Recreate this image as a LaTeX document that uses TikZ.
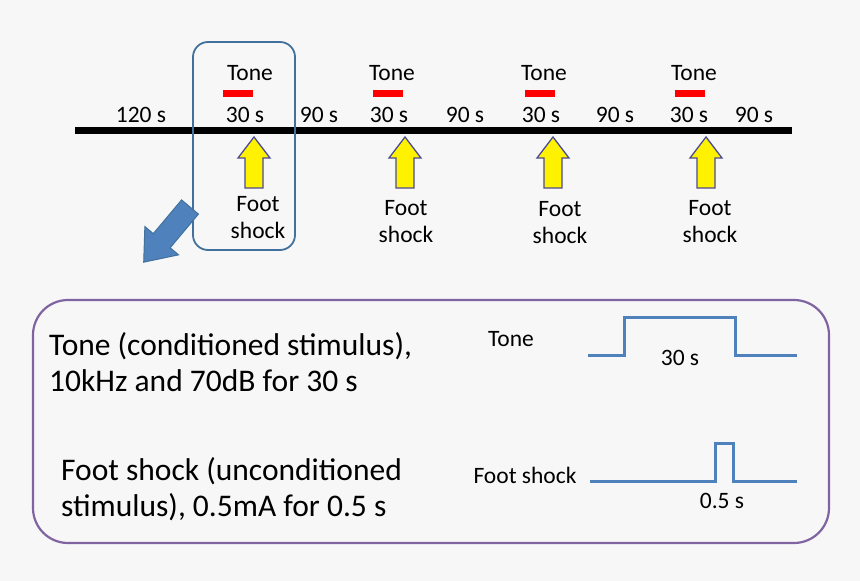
\documentclass[tikz,border=0pt]{standalone}
\usepackage{fontspec}
\setmainfont{Carlito}
\begin{document}
\begin{tikzpicture}[x=1pt,y=-1pt,
  lbl/.style={font=\fontsize{23.5}{25}\selectfont,inner sep=0pt,anchor=center},
  big/.style={font=\fontsize{31.5}{34}\selectfont,inner sep=0pt,anchor=west},
  redbar/.style={red,line width=7pt},
  yarr/.style={draw=black!60!blue!70,fill=yellow,line width=1.3pt,line join=miter}]
\definecolor{bg}{RGB}{247,247,247}
\definecolor{wv}{RGB}{79,129,189}
\definecolor{pur}{RGB}{128,100,162}
\definecolor{bdr}{RGB}{65,113,156}
\fill[bg] (0,0) rectangle (860,581);
\useasboundingbox (0,0) rectangle (860,581);
% timeline
\draw[line width=7pt] (75,130) coordinate (t0) -- (792,130) coordinate (t1);
\node[lbl] (l120) at (141,115) {120 s};
\foreach \x/\n in {245/a,389/b,541/c,689/d}{\node[lbl] (s\n) at (\x,115) {30 s};}
\foreach \x/\n in {319/a,465/b,615/c,754/d}{\node[lbl] (n\n) at (\x,115) {90 s};}
\foreach \x/\n in {250/a,392/b,544/c,694/d}{\node[lbl] (tone\n) at (\x,73) {Tone};}
\foreach \x in {238,388,540,690}{\draw[redbar] (\x-15,93) -- (\x+15,93);}
\foreach \x in {254,405,553,706}{
  \draw[yarr] (\x,137) -- (\x+16,158) -- (\x+9,158) -- (\x+9,188) -- (\x-9,188) -- (\x-9,158) -- (\x-16,158) -- cycle;}
\node[lbl,align=center] (fa) at (258,218) {Foot\\[2pt]shock};
\node[lbl,align=center] (fb) at (406,222) {Foot\\[2pt]shock};
\node[lbl,align=center] (fc) at (560,223) {Foot\\[2pt]shock};
\node[lbl,align=center] (fd) at (710,222) {Foot\\[2pt]shock};
% highlight box
\draw[bdr,line width=1.8pt,rounded corners=15pt] (193,42) rectangle (295,250);
% big blue arrow
\begin{scope}[shift={(190,207)},rotate=-130]
\draw[fill=wv,draw=bdr,line width=1pt] (0,-11) -- (44,-11) -- (44,-22) -- (72,0) -- (44,22) -- (44,11) -- (0,11) -- cycle;
\end{scope}
% bottom box
\draw[pur,line width=2.2pt,rounded corners=35pt] (33,300) rectangle (829,543);
\node[big] (c1) at (49,346) {Tone (conditioned stimulus),};
\node[big] (c2) at (49,381) {10kHz and 70dB for 30 s};
\node[big] (u1) at (61,471) {Foot shock (unconditioned};
\node[big] (u2) at (61,507) {stimulus), 0.5mA for 0.5 s};
\node[lbl] (wt) at (511,339) {Tone};
\draw[wv,line width=3pt,line join=miter] (588,355) -- (624,355) -- (624,317) -- (735,317) -- (735,355) -- (797,355);
\node[lbl] (w30) at (680,358) {30 s};
\node[lbl] (wf) at (525,475) {Foot shock};
\draw[wv,line width=3pt,line join=miter] (590,481) -- (715,481) -- (715,443) -- (733,443) -- (733,481) -- (797,481);
\node[lbl] (w05) at (722,501) {0.5 s};
\end{tikzpicture}
\end{document}
